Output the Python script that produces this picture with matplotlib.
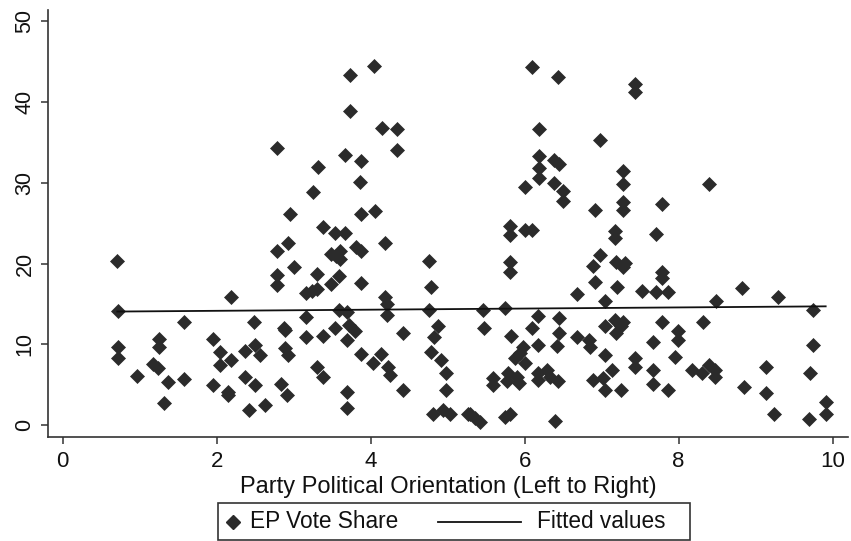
import matplotlib
matplotlib.use("Agg")
import matplotlib.pyplot as plt
from matplotlib.lines import Line2D
from matplotlib.patches import Rectangle
import numpy as np

plt.rcParams['font.family'] = ['Liberation Sans', 'DejaVu Sans']

# party orientation (x) and EP vote share (y)
orient = [
    0.71, 0.72, 2.19, 1.57, 2.48, 1.25, 1.25, 0.72, 0.72, 1.95,
    2.04, 2.37, 2.50, 2.56, 1.18, 1.24, 2.19, 2.04, 0.96, 1.37,
    1.57, 2.37, 2.50, 1.95, 2.15, 2.15, 1.32, 2.42, 2.63,
    4.05, 3.73, 3.73, 4.15, 4.34, 2.78, 4.34, 3.67, 3.87, 3.32,
    3.86, 3.25, 2.95, 3.87, 4.06, 3.38, 3.54, 3.67, 4.19, 2.93,
    2.79, 3.49, 3.60, 3.60, 3.81, 3.88, 4.76, 3.00, 2.79, 2.79,
    3.31, 3.59, 3.49, 3.30, 3.16, 3.87, 4.79, 4.19, 4.21, 4.21,
    4.76, 3.59, 3.69, 3.16, 2.87, 2.89, 3.72, 3.80, 3.54, 3.69,
    3.16, 3.38, 4.42, 4.87, 4.82, 2.89, 2.93, 3.87, 4.14, 4.03,
    4.79, 4.92, 3.30, 3.38, 4.23, 4.25, 4.98, 2.83, 2.91, 3.69,
    3.69, 4.42, 4.98, 4.81, 4.94, 5.03, 5.27, 3.24, 3.55,
    6.10, 6.44, 7.44, 7.44, 6.19, 6.98, 6.19, 6.38, 6.45, 6.19,
    6.19, 7.28, 7.28, 6.00, 6.38, 6.50, 6.50, 7.28, 7.28, 6.91,
    7.78, 5.81, 5.81, 6.00, 6.10, 7.18, 7.18, 7.71,
    5.81, 5.81, 6.98, 6.89, 7.19, 7.28, 7.30, 6.91, 7.20, 7.52,
    6.68, 7.04, 5.46, 5.75, 6.17, 6.45, 5.47, 6.10, 6.45, 5.82,
    6.68, 6.83, 6.85, 6.17, 6.42, 5.98, 5.94, 5.87, 6.00, 7.04,
    7.17, 7.28, 7.19, 7.25, 7.67, 7.05, 7.43, 7.43, 7.67, 7.67,
    7.14, 6.89, 7.02, 7.04, 7.25, 5.59, 5.59, 5.79, 5.77, 5.90,
    5.93, 6.18, 6.18, 6.29, 6.33, 6.43, 5.29, 5.42, 5.35, 5.74,
    5.81, 6.40,
    7.78, 7.78, 7.71, 7.86, 8.82, 9.29, 8.48, 9.75, 7.78, 8.32,
    7.99, 7.99, 9.75, 7.95, 7.86, 8.18, 8.31, 8.40, 8.47, 8.47,
    8.85, 9.13, 9.13, 9.24, 9.71, 9.91, 9.91, 9.69, 8.40,
]
vote_share = [
    20.3, 14.1, 15.9, 12.8, 12.8, 10.7, 9.6, 9.7, 8.3, 10.7,
    9.0, 9.2, 9.9, 8.7, 7.6, 7.0, 8.1, 7.4, 6.1, 5.3,
    5.7, 6.0, 4.9, 5.0, 4.1, 3.7, 2.7, 1.9, 2.5,
    44.5, 43.4, 38.9, 36.8, 36.7, 34.3, 34.0, 33.5, 32.7, 32.0,
    30.1, 28.9, 26.1, 26.1, 26.5, 24.5, 23.8, 23.8, 22.6, 22.5,
    21.5, 21.2, 21.5, 20.6, 22.0, 21.5, 20.3, 19.6, 18.6, 17.3,
    18.7, 18.5, 17.5, 16.8, 16.3, 17.6, 17.1, 15.8, 15.0, 13.6,
    14.2, 14.3, 14.0, 13.4, 12.0, 11.8, 12.4, 11.6, 12.0, 10.5,
    10.9, 11.0, 11.4, 12.3, 10.9, 9.5, 8.7, 8.8, 8.8, 7.7,
    9.1, 8.1, 7.2, 6.0, 7.2, 6.2, 6.4, 5.1, 3.7, 4.1,
    2.1, 4.3, 4.3, 1.4, 1.9, 1.3, 1.3, 16.6, 20.9,
    44.4, 43.1, 42.2, 41.2, 36.6, 35.3, 33.3, 32.8, 32.3, 31.8,
    30.6, 31.5, 29.9, 29.5, 30.0, 29.0, 27.7, 27.6, 26.6, 26.6,
    27.4, 24.6, 23.5, 24.2, 24.2, 24.0, 23.2, 23.7,
    20.2, 19.0, 21.1, 19.7, 20.2, 19.6, 20.1, 17.7, 17.1, 16.6,
    16.2, 15.4, 14.3, 14.5, 13.5, 13.2, 12.0, 12.0, 11.4, 11.0,
    10.9, 10.5, 9.7, 9.9, 9.8, 9.7, 8.9, 8.3, 7.7, 12.2,
    13.0, 12.8, 11.4, 12.3, 10.3, 8.7, 8.3, 7.2, 6.8, 5.1,
    6.8, 5.6, 5.8, 4.3, 4.3, 5.8, 5.0, 6.4, 5.4, 6.0,
    5.2, 6.4, 5.6, 6.8, 6.0, 5.4, 1.4, 0.4, 0.9, 1.0,
    1.4, 0.5,
    19.0, 18.2, 16.5, 16.5, 17.0, 15.9, 15.4, 14.3, 12.7, 12.7,
    11.6, 10.5, 9.9, 8.4, 4.3, 6.8, 6.4, 7.4, 6.8, 6.0,
    4.7, 7.2, 4.0, 1.3, 6.4, 2.8, 1.3, 0.7, 29.8,
]

# linear fit as drawn in the original
fit_intercept = 14.0
fit_slope = 0.07

x = np.array(orient)
y = np.array(vote_share)

fig = plt.figure(figsize=(8.51, 5.41), dpi=100)
ax = fig.add_axes([48/851, 104/541, 800/851, 427/541])

dark = '#2b2b2b'
ax.plot(x, y, linestyle='none', marker='D', markersize=7.3,
        markerfacecolor=dark, markeredgecolor=dark, markeredgewidth=0.5)
xs = np.array([x.min(), x.max()])
ax.plot(xs, fit_intercept + fit_slope * xs, color='#111111', linewidth=1.3)

ax.set_xlim(-0.19, 10.2)
ax.set_ylim(-1.49, 51.4)
ax.set_xticks([0, 2, 4, 6, 8, 10])
ax.set_yticks([0, 10, 20, 30, 40, 50])
for s in ['top', 'right']:
    ax.spines[s].set_visible(False)
for s in ['left', 'bottom']:
    ax.spines[s].set_color('#333333')
    ax.spines[s].set_linewidth(1.2)
ax.tick_params(direction='out', length=5, width=1.1, color='#333333',
               labelsize=16, labelcolor='#111111', pad=5)
ax.tick_params(axis='y', labelsize=15.5, pad=4)
plt.setp(ax.get_yticklabels(), rotation=90, va='center')
ax.set_xlabel('Party Political Orientation (Left to Right)', fontsize=17,
              color='#111111', labelpad=3)

# legend box drawn below the axes
fig.add_artist(Rectangle((218/851, 1/541), 472/851, 37/541,
                         transform=fig.transFigure, fill=False,
                         edgecolor='#333333', linewidth=1.2))
fig.add_artist(Line2D([233/851], [19/541], transform=fig.transFigure,
                      marker='D', markersize=7.3, color=dark, linestyle='none'))
fig.text(250/851, 19/541, 'EP Vote Share', fontsize=16.3, color='#111111',
         va='center', ha='left')
fig.add_artist(Line2D([438/851, 521/851], [19/541, 19/541],
                      transform=fig.transFigure, color='#111111', linewidth=1.3))
fig.text(537/851, 19/541, 'Fitted values', fontsize=16.3, color='#111111',
         va='center', ha='left')

fig.savefig('out.png', dpi=100)
